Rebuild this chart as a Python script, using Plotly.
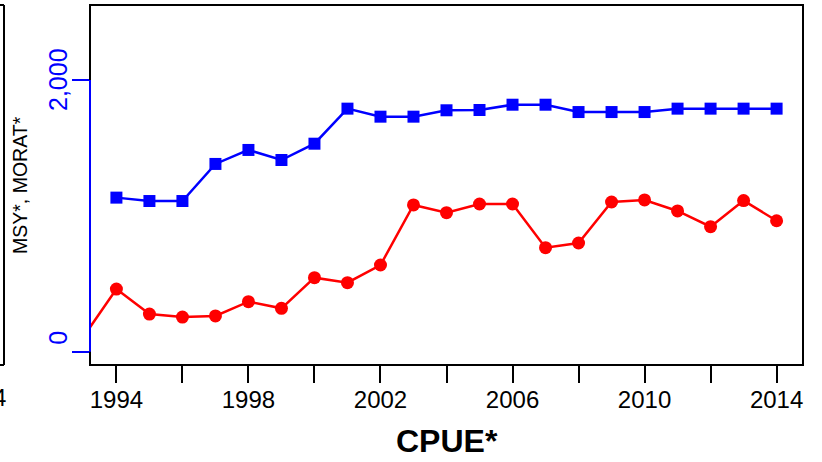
import plotly.graph_objects as go

# ---- data ----
years_blue = list(range(1994, 2015))
msy_values = [1134, 1109, 1109, 1382, 1485, 1411, 1531, 1789, 1730, 1730, 1777,
              1779, 1818, 1818, 1764, 1764, 1764, 1789, 1789, 1789, 1789]
years_red = list(range(1993, 2015))
morat_values = [110, 461, 277, 255, 263, 368, 319, 545, 508, 638, 1080, 1023,
                1087, 1087, 766, 800, 1102, 1117, 1036, 920, 1112, 964]
x_tick_vals = list(range(1994, 2015, 2))
x_tick_text = ["1994", "", "1998", "", "2002", "", "2006", "", "2010", "", "2014"]
y_tick_vals = [0, 2000]
y_tick_text = ["0", "2,000"]
x_title = "CPUE*"
y_title = "MSY*, MORAT*"

X_RANGE = [1993.2, 2014.8]
Y_RANGE = [-98, 2552]

W, H = 822, 462
L, R, T, B = 90, 19, 5, 97
PW, PH = W - L - R, H - T - B

def px(xpix):
    return (xpix - L) / PW

def py(ypix):
    return (H - B - ypix) / PH

def yval_to_paper(v):
    return (v - Y_RANGE[0]) / (Y_RANGE[1] - Y_RANGE[0])

FONT = "Liberation Sans, Arial, sans-serif"

fig = go.Figure()
fig.add_trace(go.Scatter(
    x=years_blue, y=msy_values, mode="lines+markers",
    line=dict(color="#0000FF", width=2.5),
    marker=dict(symbol="square", size=12, color="#0000FF"),
    showlegend=False, cliponaxis=True, hoverinfo="skip"))
fig.add_trace(go.Scatter(
    x=years_red, y=morat_values, mode="lines+markers",
    line=dict(color="#FF0000", width=2.5),
    marker=dict(symbol="circle", size=13, color="#FF0000"),
    showlegend=False, cliponaxis=True, hoverinfo="skip"))

fig.update_layout(
    width=W, height=H,
    margin=dict(l=L, r=R, t=T, b=B, pad=0),
    paper_bgcolor="white", plot_bgcolor="white",
    font=dict(family=FONT, color="black"),
    xaxis=dict(range=X_RANGE, tickvals=x_tick_vals, ticktext=x_tick_text,
               ticks="outside", ticklen=17, tickwidth=2, tickcolor="black",
               ticklabelstandoff=-4,
               tickfont=dict(size=24, family=FONT, color="black"),
               showgrid=False, zeroline=False, showline=False),
    yaxis=dict(range=Y_RANGE, tickvals=y_tick_vals,
               ticks="outside", ticklen=17, tickwidth=2, tickcolor="#0000FF",
               showticklabels=False, showgrid=False, zeroline=False, showline=False),
)

shapes = [
    # plot frame
    dict(type="rect", xref="paper", yref="paper", x0=0, x1=1, y0=0, y1=1,
         line=dict(color="black", width=2), layer="above"),
    # blue y axis line over the labelled range
    dict(type="line", xref="paper", yref="paper", x0=0, x1=0,
         y0=yval_to_paper(y_tick_vals[0]), y1=yval_to_paper(y_tick_vals[-1]),
         line=dict(color="#0000FF", width=2), layer="above"),
    # remnant of neighbouring panel frame
    dict(type="line", xref="paper", yref="paper", x0=px(4), x1=px(4), y0=0, y1=1,
         line=dict(color="black", width=2), layer="above"),
    dict(type="line", xref="paper", yref="paper", x0=px(-5), x1=px(4), y0=0, y1=0,
         line=dict(color="black", width=2), layer="above"),
    dict(type="line", xref="paper", yref="paper", x0=px(-5), x1=px(4), y0=1, y1=1,
         line=dict(color="black", width=2), layer="above"),
]
fig.update_layout(shapes=shapes)

ann = []
for v, t in zip(y_tick_vals, y_tick_text):
    ann.append(dict(x=px(58), xref="paper", y=v, yref="y", text=t, showarrow=False,
                    textangle=-90, xanchor="center", yanchor="middle",
                    yshift=14 if v == 0 else 0,
                    font=dict(size=25, color="#0000FF", family=FONT)))
ann.append(dict(x=px(20), xref="paper", y=py(185), yref="paper", text=y_title,
                showarrow=False, textangle=-90, xanchor="center", yanchor="middle",
                font=dict(size=19.5, color="black", family=FONT)))
ann.append(dict(x=0.5, xref="paper", y=py(441), yref="paper", text="<b>" + x_title + "</b>",
                showarrow=False, xanchor="center", yanchor="middle",
                font=dict(size=32, color="black", family=FONT)))
# cropped tick label of neighbouring panel
ann.append(dict(x=px(8), xref="paper", y=py(398), yref="paper", text=x_tick_text[-1],
                showarrow=False, xanchor="right", yanchor="middle",
                font=dict(size=24, color="black", family=FONT)))
fig.update_layout(annotations=ann)

fig.write_html("out.html",
               config={"displayModeBar": False},
               post_script="document.body.style.margin='0';document.body.style.overflow='hidden';")
